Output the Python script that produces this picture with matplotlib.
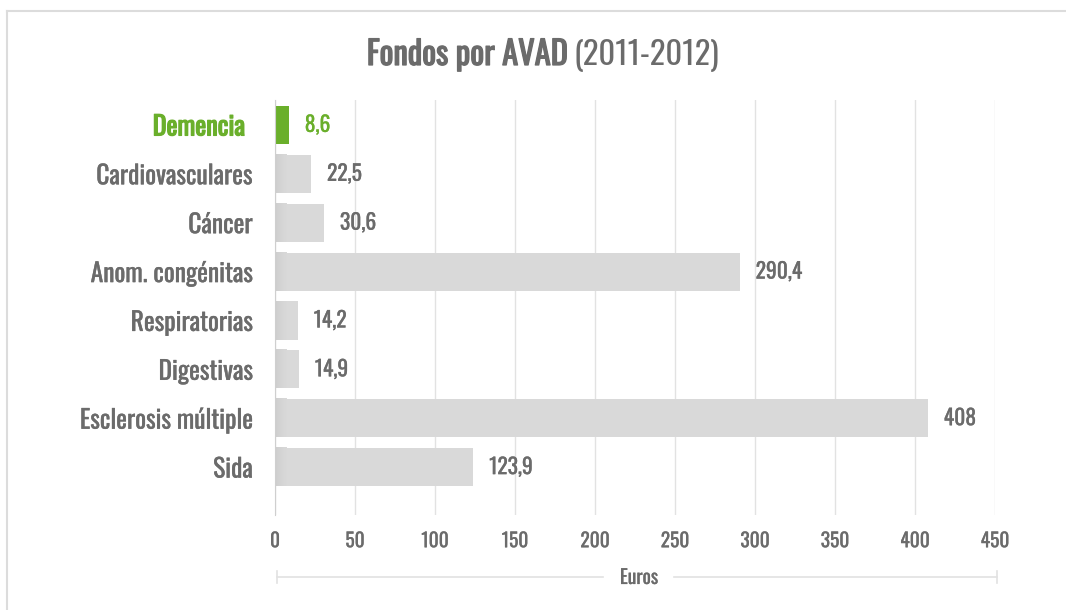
import matplotlib
matplotlib.use("Agg")
import matplotlib.pyplot as plt
import matplotlib.patheffects as pe
import matplotlib.transforms as mtransforms
from matplotlib.colors import LinearSegmentedColormap
import numpy as np
from matplotlib.lines import Line2D

categories = ["Demencia", "Cardiovasculares", "Cáncer", "Anom. congénitas",
              "Respiratorias", "Digestivas", "Esclerosis múltiple", "Sida"]
values = [8.6, 22.5, 30.6, 290.4, 14.2, 14.9, 408, 123.9]
value_labels = ["8,6", "22,5", "30,6", "290,4", "14,2", "14,9", "408", "123,9"]
xticks = [0, 50, 100, 150, 200, 250, 300, 350, 400, 450]

GREY = "#6b6b6b"
GREEN = "#6aaf2b"
BAR = "#d9d9d9"
LINE = "#e2e2e2"

plt.rcParams["font.family"] = ["Oswald", "Barlow Condensed", "DejaVu Sans"]


def thick(color, w=0.5):
    # Oswald is a variable font here, so fake heavier weights with a stroke
    return [pe.withStroke(linewidth=w, foreground=color)]


W, H = 1066, 610
fig = plt.figure(figsize=(W / 100, H / 100), dpi=100)
ax = fig.add_axes([275 / W, 1 - 515 / H, (995 - 275) / W, (515 - 100) / H])

y = np.arange(len(categories))
bh = 0.78
colors = [GREEN] + [BAR] * (len(categories) - 1)
ax.barh(y, values, height=bh, color=colors, zorder=2)

# soft shading at the left end of the grey bars
shade = LinearSegmentedColormap.from_list("shade", ["#cbcbcb", BAR])
grad = np.linspace(0, 1, 64).reshape(1, -1) ** 0.6
for i, v in enumerate(values):
    if i == 0:
        continue
    ax.imshow(grad, cmap=shade, aspect="auto", zorder=2.5, interpolation="bilinear",
              extent=(0, min(v, 7), i + bh / 2, i - bh / 2))

for i, (v, lab) in enumerate(zip(values, value_labels)):
    c = GREEN if i == 0 else GREY
    ax.text(v + 10, i, lab, va="center", ha="left", fontsize=15.5,
            color=c, path_effects=thick(c, 0.15 if i == 0 else 0.2))

ax.set_xlim(0, 450)
ax.set_ylim(len(categories) - 1 + 0.98, -0.51)
ax.set_xticks(xticks)
ax.set_xticklabels([str(t) for t in xticks], fontsize=14, color=GREY)
ax.set_yticks(y)
ax.set_yticklabels([""] + categories[1:], fontsize=18.4, color=GREY)
for t in ax.get_yticklabels():
    t.set_path_effects(thick(GREY, 0.25))
for t in ax.get_xticklabels():
    t.set_path_effects(thick(GREY, 0.15))

# highlighted category, drawn a little further left like the original
trans = mtransforms.blended_transform_factory(ax.transAxes, ax.transData)
trans = trans + mtransforms.ScaledTranslation(-30 / 100, 0, fig.dpi_scale_trans)
ax.text(0, 0, categories[0], transform=trans, ha="right", va="center_baseline",
        fontsize=18.8, color=GREEN, path_effects=thick(GREEN, 0.9))

ax.tick_params(axis="both", length=0)
ax.tick_params(axis="y", pad=16)
ax.tick_params(axis="x", pad=11)
ax.grid(axis="x", color=LINE, linewidth=1, zorder=0)
for s in ["top", "right", "bottom"]:
    ax.spines[s].set_visible(False)
ax.spines["left"].set_color("#cfcfcf")
ax.spines["left"].set_zorder(3)

# title: heavy part + light part, centred together
t1 = fig.text(0, 1 - 55 / H, "Fondos por AVAD", ha="left", va="center",
              fontsize=23.5, color=GREY, path_effects=thick(GREY, 0.9))
t2 = fig.text(0, 1 - 55 / H, "(2011-2012)", ha="left", va="center",
              fontsize=23.5, color=GREY)
r = fig.canvas.get_renderer()
w1 = t1.get_window_extent(r).width
w2 = t2.get_window_extent(r).width
gap = 6
x0 = 543 - (w1 + gap + w2) / 2
t1.set_x(x0 / W)
t2.set_x((x0 + w1 + gap) / W)

# axis title bracket
yb = 1 - 577 / H
fig.add_artist(Line2D([277 / W, 603 / W], [yb, yb], color=LINE, lw=1.2))
fig.add_artist(Line2D([674 / W, 997 / W], [yb, yb], color=LINE, lw=1.2))
for xe in (277, 997):
    fig.add_artist(Line2D([xe / W, xe / W], [1 - 571 / H, 1 - 583 / H], color=LINE, lw=1.2))
fig.text(639 / W, yb, "Euros", ha="center", va="center", fontsize=14, color=GREY,
         path_effects=thick(GREY, 0.15))

# outer frame (left and top edges)
fig.add_artist(Line2D([7 / W, 7 / W], [0, 1 - 11 / H], color="#dcdcdc", lw=1.5))
fig.add_artist(Line2D([7 / W, 1], [1 - 11 / H, 1 - 11 / H], color="#dcdcdc", lw=1.5))

fig.savefig("out.png", dpi=100)
